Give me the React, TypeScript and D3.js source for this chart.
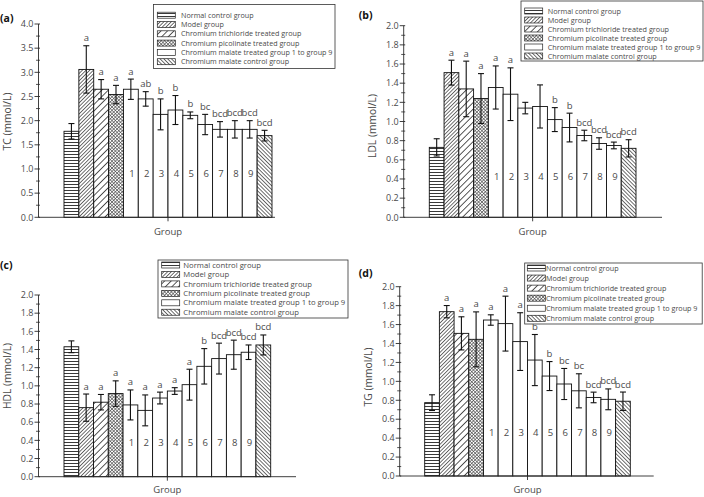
import React from "react";
import * as d3 from "d3";

// ---------- data ----------
const CATEGORIES = [
  "Normal", "Model", "CrCl3", "CrPic",
  "1", "2", "3", "4", "5", "6", "7", "8", "9",
  "CrMalCtrl",
];
const BAR_FILLS = [
  "hlines", "diagDense", "diagSparse", "cross",
  "white", "white", "white", "white", "white", "white", "white", "white", "white",
  "back",
];
const NUMBER_LABELS = ["", "", "", "", "1", "2", "3", "4", "5", "6", "7", "8", "9", ""];

const LEGEND_NAMES = [
  "Normal control group",
  "Model group",
  "Chromium trichloride treated group",
  "Chromium picolinate treated group",
  "Chromium malate treated group 1 to group 9",
  "Chromium malate control group",
];
const LEGEND_FILLS = ["hlines", "diagDense", "diagSparse", "cross", "white", "back"];

const TC_MEAN = [1.78, 3.06, 2.65, 2.54, 2.65, 2.45, 2.13, 2.22, 2.11, 1.92, 1.82, 1.82, 1.82, 1.69];
const TC_SD = [0.16, 0.49, 0.2, 0.19, 0.21, 0.15, 0.32, 0.3, 0.07, 0.21, 0.16, 0.18, 0.18, 0.11];
const TC_LETTERS = ["", "a", "a", "a", "a", "ab", "b", "b", "b", "bc", "bcd", "bcd", "bcd", "bcd"];

const LDL_MEAN = [0.73, 1.51, 1.34, 1.24, 1.355, 1.285, 1.14, 1.157, 1.02, 0.937, 0.854, 0.77, 0.75, 0.72];
const LDL_SD = [0.09, 0.13, 0.29, 0.26, 0.225, 0.275, 0.06, 0.225, 0.125, 0.15, 0.055, 0.06, 0.035, 0.09];
const LDL_LETTERS = ["", "a", "a", "a", "a", "a", "", "", "b", "b", "bcd", "bcd", "bcd", "bcd"];

const HDL_MEAN = [1.43, 0.76, 0.82, 0.915, 0.79, 0.73, 0.866, 0.943, 1.013, 1.215, 1.3, 1.343, 1.37, 1.45];
const HDL_SD = [0.065, 0.15, 0.085, 0.14, 0.165, 0.17, 0.065, 0.037, 0.17, 0.195, 0.17, 0.16, 0.08, 0.11];
const HDL_LETTERS = ["", "a", "a", "a", "a", "a", "a", "a", "a", "b", "bcd", "bcd", "bcd", "bcd"];

const TG_MEAN = [0.775, 1.736, 1.507, 1.444, 1.648, 1.61, 1.42, 1.225, 1.056, 0.972, 0.9, 0.83, 0.81, 0.79];
const TG_SD = [0.083, 0.065, 0.175, 0.29, 0.055, 0.29, 0.305, 0.27, 0.153, 0.164, 0.18, 0.056, 0.11, 0.097];
const TG_LETTERS = ["", "a", "a", "a", "a", "a", "a", "b", "b", "bc", "bc", "bcd", "bcd", "bcd"];

// ---------- layout ----------
const FONT = "'Open Sans', 'Noto Sans', sans-serif";
const TEXT = "#4a4a4a";
const LINE = "#2a2a2a";

const PANELS = [
  {
    key: "a", label: "(a)", title: "TC (mmol/L)",
    mean: TC_MEAN, sd: TC_SD, letters: TC_LETTERS,
    yMax: 4, major: 0.5, numY: 0.9,
    axisX: 38.5, y0: 217.3, yTop: 24, barStart: 64, barEnd: 272, axisEnd: 275,
    labelX: 0, labelY: 18.3, titleY: 121.5, groupY: 232,
    legend: { x: 153.5, y: 4.5, w: 181.5, h: 64, rowY: 15.2, rowH: 9.3, swX: 157.3, txtX: 181, fs: 7.2 },
  },
  {
    key: "b", label: "(b)", title: "LDL (mmol/L)",
    mean: LDL_MEAN, sd: LDL_SD, letters: LDL_LETTERS,
    yMax: 2, major: 0.2, numY: 0.42,
    axisX: 403.7, y0: 217.3, yTop: 25.7, barStart: 429.3, barEnd: 636, axisEnd: 662,
    labelX: 358.7, labelY: 15.7, titleY: 126, groupY: 231.7,
    legend: { x: 521, y: 1, w: 182, h: 60, rowY: 11, rowH: 9, swX: 524.7, txtX: 547.7, fs: 7.25 },
  },
  {
    key: "c", label: "(c)", title: "HDL (mmol/L)",
    mean: HDL_MEAN, sd: HDL_SD, letters: HDL_LETTERS,
    yMax: 2, major: 0.2, numY: 0.375,
    axisX: 38.5, y0: 476.7, yTop: 295, barStart: 64, barEnd: 270.7, axisEnd: 296,
    labelX: 0, labelY: 265, titleY: 376, groupY: 489.3,
    legend: { x: 158, y: 260, w: 190, h: 58, rowY: 265, rowH: 9.45, swX: 161.7, txtX: 183.3, fs: 7.7 },
  },
  {
    key: "d", label: "(d)", title: "TG (mmol/L)",
    mean: TG_MEAN, sd: TG_SD, letters: TG_LETTERS,
    yMax: 2, major: 0.2, numY: 0.46,
    axisX: 399.7, y0: 476, yTop: 286.7, barStart: 424.7, barEnd: 630.3, axisEnd: 653.7,
    labelX: 358.7, labelY: 273.3, titleY: 377, groupY: 490,
    legend: { x: 524.7, y: 263, w: 177.5, h: 61, rowY: 268, rowH: 10.06, swX: 527.3, txtX: 546, fs: 7.2 },
  },
];

function Patterns() {
  return (
    <defs>
      <pattern id="hlines" patternUnits="userSpaceOnUse" width={4} height={3}>
        <rect width={4} height={3} fill="#fff" />
        <line x1={0} y1={1.5} x2={4} y2={1.5} stroke="#222" strokeWidth={0.9} />
      </pattern>
      <pattern id="diagDense" patternUnits="userSpaceOnUse" width={2.6} height={4} patternTransform="rotate(45)">
        <rect width={2.6} height={4} fill="#fff" />
        <line x1={1.3} y1={0} x2={1.3} y2={4} stroke="#333" strokeWidth={0.75} />
      </pattern>
      <pattern id="diagSparse" patternUnits="userSpaceOnUse" width={4.6} height={4} patternTransform="rotate(45)">
        <rect width={4.6} height={4} fill="#fff" />
        <line x1={2.3} y1={0} x2={2.3} y2={4} stroke="#333" strokeWidth={0.85} />
      </pattern>
      <pattern id="cross" patternUnits="userSpaceOnUse" width={2.4} height={2.4} patternTransform="rotate(45)">
        <rect width={2.4} height={2.4} fill="#fff" />
        <line x1={1.2} y1={0} x2={1.2} y2={2.4} stroke="#444" strokeWidth={0.6} />
        <line x1={0} y1={1.2} x2={2.4} y2={1.2} stroke="#444" strokeWidth={0.6} />
      </pattern>
      <pattern id="back" patternUnits="userSpaceOnUse" width={2.7} height={4} patternTransform="rotate(-45)">
        <rect width={2.7} height={4} fill="#fff" />
        <line x1={1.35} y1={0} x2={1.35} y2={4} stroke="#333" strokeWidth={0.75} />
      </pattern>
    </defs>
  );
}

function fillOf(k: string) {
  return k === "white" ? "#fff" : `url(#${k})`;
}

function Panel({ p }: { p: any }) {
  const y = d3.scaleLinear().domain([0, p.yMax]).range([p.y0, p.yTop]);
  const x = d3.scaleBand().domain(CATEGORIES).range([p.barStart, p.barEnd]).padding(0);
  const majors = d3.range(0, p.yMax + 1e-9, p.major);
  const minors = d3.range(p.major / 2, p.yMax, p.major);
  const bw = x.bandwidth();
  const lg = p.legend;
  return (
    <g>
      {CATEGORIES.map((c, i) => (
        <rect key={c} x={x(c)} y={y(p.mean[i])} width={bw} height={p.y0 - y(p.mean[i])}
          fill={fillOf(BAR_FILLS[i])} stroke="#111" strokeWidth={0.9} />
      ))}
      {CATEGORIES.map((c, i) => NUMBER_LABELS[i] ? (
        <text key={"n" + c} x={(x(c) as number) + bw / 2 + 1} y={y(p.numY)} dy="0.35em" textAnchor="middle"
          fontSize={9.5} fill={TEXT} fontFamily={FONT}>{NUMBER_LABELS[i]}</text>
      ) : null)}
      {CATEGORIES.map((c, i) => {
        const cx = (x(c) as number) + bw / 2;
        const hi = y(p.mean[i] + p.sd[i]);
        const lo = y(p.mean[i] - p.sd[i]);
        return (
          <g key={"e" + c} stroke="#111" strokeWidth={1.1}>
            <line x1={cx} x2={cx} y1={hi} y2={lo} />
            <line x1={cx - 3} x2={cx + 3} y1={hi} y2={hi} />
            <line x1={cx - 3} x2={cx + 3} y1={lo} y2={lo} />
          </g>
        );
      })}
      {CATEGORIES.map((c, i) => p.letters[i] ? (
        <text key={"l" + c} x={(x(c) as number) + bw / 2} y={y(p.mean[i] + p.sd[i]) - 4.5} textAnchor="middle"
          fontSize={9.5} fill={TEXT} fontFamily={FONT}>{p.letters[i]}</text>
      ) : null)}
      <line x1={p.axisX} x2={p.axisX} y1={p.y0} y2={p.yTop} stroke={LINE} strokeWidth={0.9} />
      {majors.map((v: number) => (
        <g key={"t" + v}>
          <line x1={p.axisX - 4} x2={p.axisX + 1.5} y1={y(v)} y2={y(v)} stroke={LINE} strokeWidth={0.9} />
          <text x={p.axisX - 5} y={y(v)} dy="0.36em" textAnchor="end" fontSize={9} fill={TEXT} fontFamily={FONT}>
            {v.toFixed(1)}
          </text>
        </g>
      ))}
      {minors.map((v: number) => (
        <line key={"m" + v} x1={p.axisX - 2.5} x2={p.axisX + 1.5} y1={y(v)} y2={y(v)} stroke={LINE} strokeWidth={0.8} />
      ))}
      <line x1={p.axisX} x2={p.axisEnd} y1={p.y0} y2={p.y0} stroke={LINE} strokeWidth={0.9} />
      <line x1={x(CATEGORIES[7])} x2={x(CATEGORIES[7])} y1={p.y0} y2={p.y0 + 4} stroke={LINE} strokeWidth={0.9} />
      <text x={(p.barStart + p.barEnd) / 2} y={p.groupY} dy="0.35em" textAnchor="middle" fontSize={9.5}
        fill={TEXT} fontFamily={FONT}>Group</text>
      <text transform={`translate(${p.axisX - 31},${p.titleY}) rotate(-90)`} textAnchor="middle" dy="0.35em"
        fontSize={10.3} fill={TEXT} fontFamily={FONT}>{p.title}</text>
      <text x={p.labelX} y={p.labelY} dy="0.35em" fontSize={10.5} fontWeight="bold" fill="#111" fontFamily={FONT}>
        {p.label}
      </text>
      <rect x={lg.x} y={lg.y} width={lg.w} height={lg.h} fill="#fff" stroke="#333" strokeWidth={0.8} />
      {LEGEND_NAMES.map((n, i) => {
        const cy = lg.rowY + i * lg.rowH;
        return (
          <g key={n}>
            <rect x={lg.swX} y={cy - 3} width={18} height={6} fill={fillOf(LEGEND_FILLS[i])} stroke="#222" strokeWidth={0.7} />
            <text x={lg.txtX} y={cy} dy="0.35em" fontSize={lg.fs} fill={TEXT} fontFamily={FONT}>{n}</text>
          </g>
        );
      })}
    </g>
  );
}

export default function App() {
  return (
    <div style={{ position: "absolute", left: 0, top: 0 }}>
      <svg width={704} height={497} style={{ display: "block", background: "#fff" }}>
        <Patterns />
        {PANELS.map((p) => <Panel key={p.key} p={p} />)}
      </svg>
    </div>
  );
}
